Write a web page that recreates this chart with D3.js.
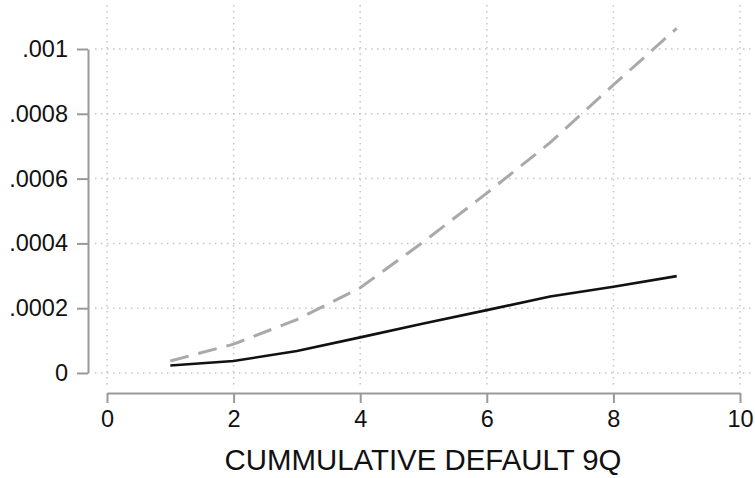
<!DOCTYPE html>
<html>
<head>
<meta charset="utf-8">
<script src="https://cdn.jsdelivr.net/npm/d3@7"></script>
<style>
  body{margin:0;background:#fff;}
  svg{display:block;font-family:"Liberation Sans",Arial,sans-serif;}
</style>
</head>
<body>
<svg class="chart"></svg>
<script>
var quarters = [1,2,3,4,5,6,7,8,9];
var solidSeries = [0.000023,0.000037,0.000068,0.000110,0.000153,0.000194,0.000236,0.000266,0.000299];
var dashSeries  = [0.000037,0.000089,0.000165,0.000263,0.000405,0.000555,0.000711,0.000889,0.001064];
var xTicks = [0,2,4,6,8,10];
var yTicks = [0,0.0002,0.0004,0.0006,0.0008,0.001];
var xTitle = "CUMMULATIVE DEFAULT 9Q";

var width=755, height=478;
var svg = d3.select("svg.chart")
            .attr("width",width)
            .attr("height",height);

var xScale = d3.scaleLinear().domain([0,10]).range([107,740]);
var yScale = d3.scaleLinear().domain([0,0.001]).range([373,49]);

function yFmt(d){
  if(d===0){return "0";}
  return String(+d.toFixed(4)).replace(/^0/,"");
}

// dotted grid
svg.append("g")
   .selectAll("line")
   .data(yTicks)
   .enter()
   .append("line")
   .attr("x1",95).attr("x2",755)
   .attr("y1",function(d){return yScale(d);})
   .attr("y2",function(d){return yScale(d);})
   .attr("stroke","#c4c4c4")
   .attr("stroke-width",1.5)
   .attr("stroke-dasharray","1.5,4.5");
svg.append("g")
   .selectAll("line")
   .data(xTicks)
   .enter()
   .append("line")
   .attr("y1",5).attr("y2",385)
   .attr("x1",function(d){return xScale(d);})
   .attr("x2",function(d){return xScale(d);})
   .attr("stroke","#c4c4c4")
   .attr("stroke-width",1.5)
   .attr("stroke-dasharray","1.5,4.5");

// axes
var yAxis = d3.axisLeft(yScale)
              .tickValues(yTicks)
              .tickFormat(yFmt)
              .tickSize(11)
              .tickSizeOuter(0)
              .tickPadding(9);
var gy = svg.append("g")
   .attr("transform","translate(88,0)")
   .call(yAxis);

var xAxis = d3.axisBottom(xScale)
              .tickValues(xTicks)
              .tickSize(10)
              .tickSizeOuter(0)
              .tickPadding(7);
var gx = svg.append("g")
   .attr("transform","translate(0,393)")
   .call(xAxis);

[gy,gx].forEach(function(g){
  g.attr("font-size",null).attr("font-family",null);
  g.select(".domain").attr("stroke","#999").attr("stroke-width",2);
  g.selectAll(".tick line").attr("stroke","#999").attr("stroke-width",2);
  g.selectAll(".tick text")
   .attr("fill","#111")
   .style("font-size","23.5px");
});

svg.append("text")
   .attr("x",423)
   .attr("y",470)
   .attr("text-anchor","middle")
   .style("font-size","29.4px")
   .attr("fill","#111")
   .text(xTitle);

// lines
var line = d3.line()
             .x(function(d){return xScale(d[0]);})
             .y(function(d){return yScale(d[1]);});

svg.append("path")
   .datum(d3.zip(quarters,dashSeries))
   .attr("d",line)
   .attr("fill","none")
   .attr("stroke","#a9a9a9")
   .attr("stroke-width",3)
   .attr("stroke-dasharray","19,10");

svg.append("path")
   .datum(d3.zip(quarters,solidSeries))
   .attr("d",line)
   .attr("fill","none")
   .attr("stroke","#111")
   .attr("stroke-width",2.6);
</script>
</body>
</html>
